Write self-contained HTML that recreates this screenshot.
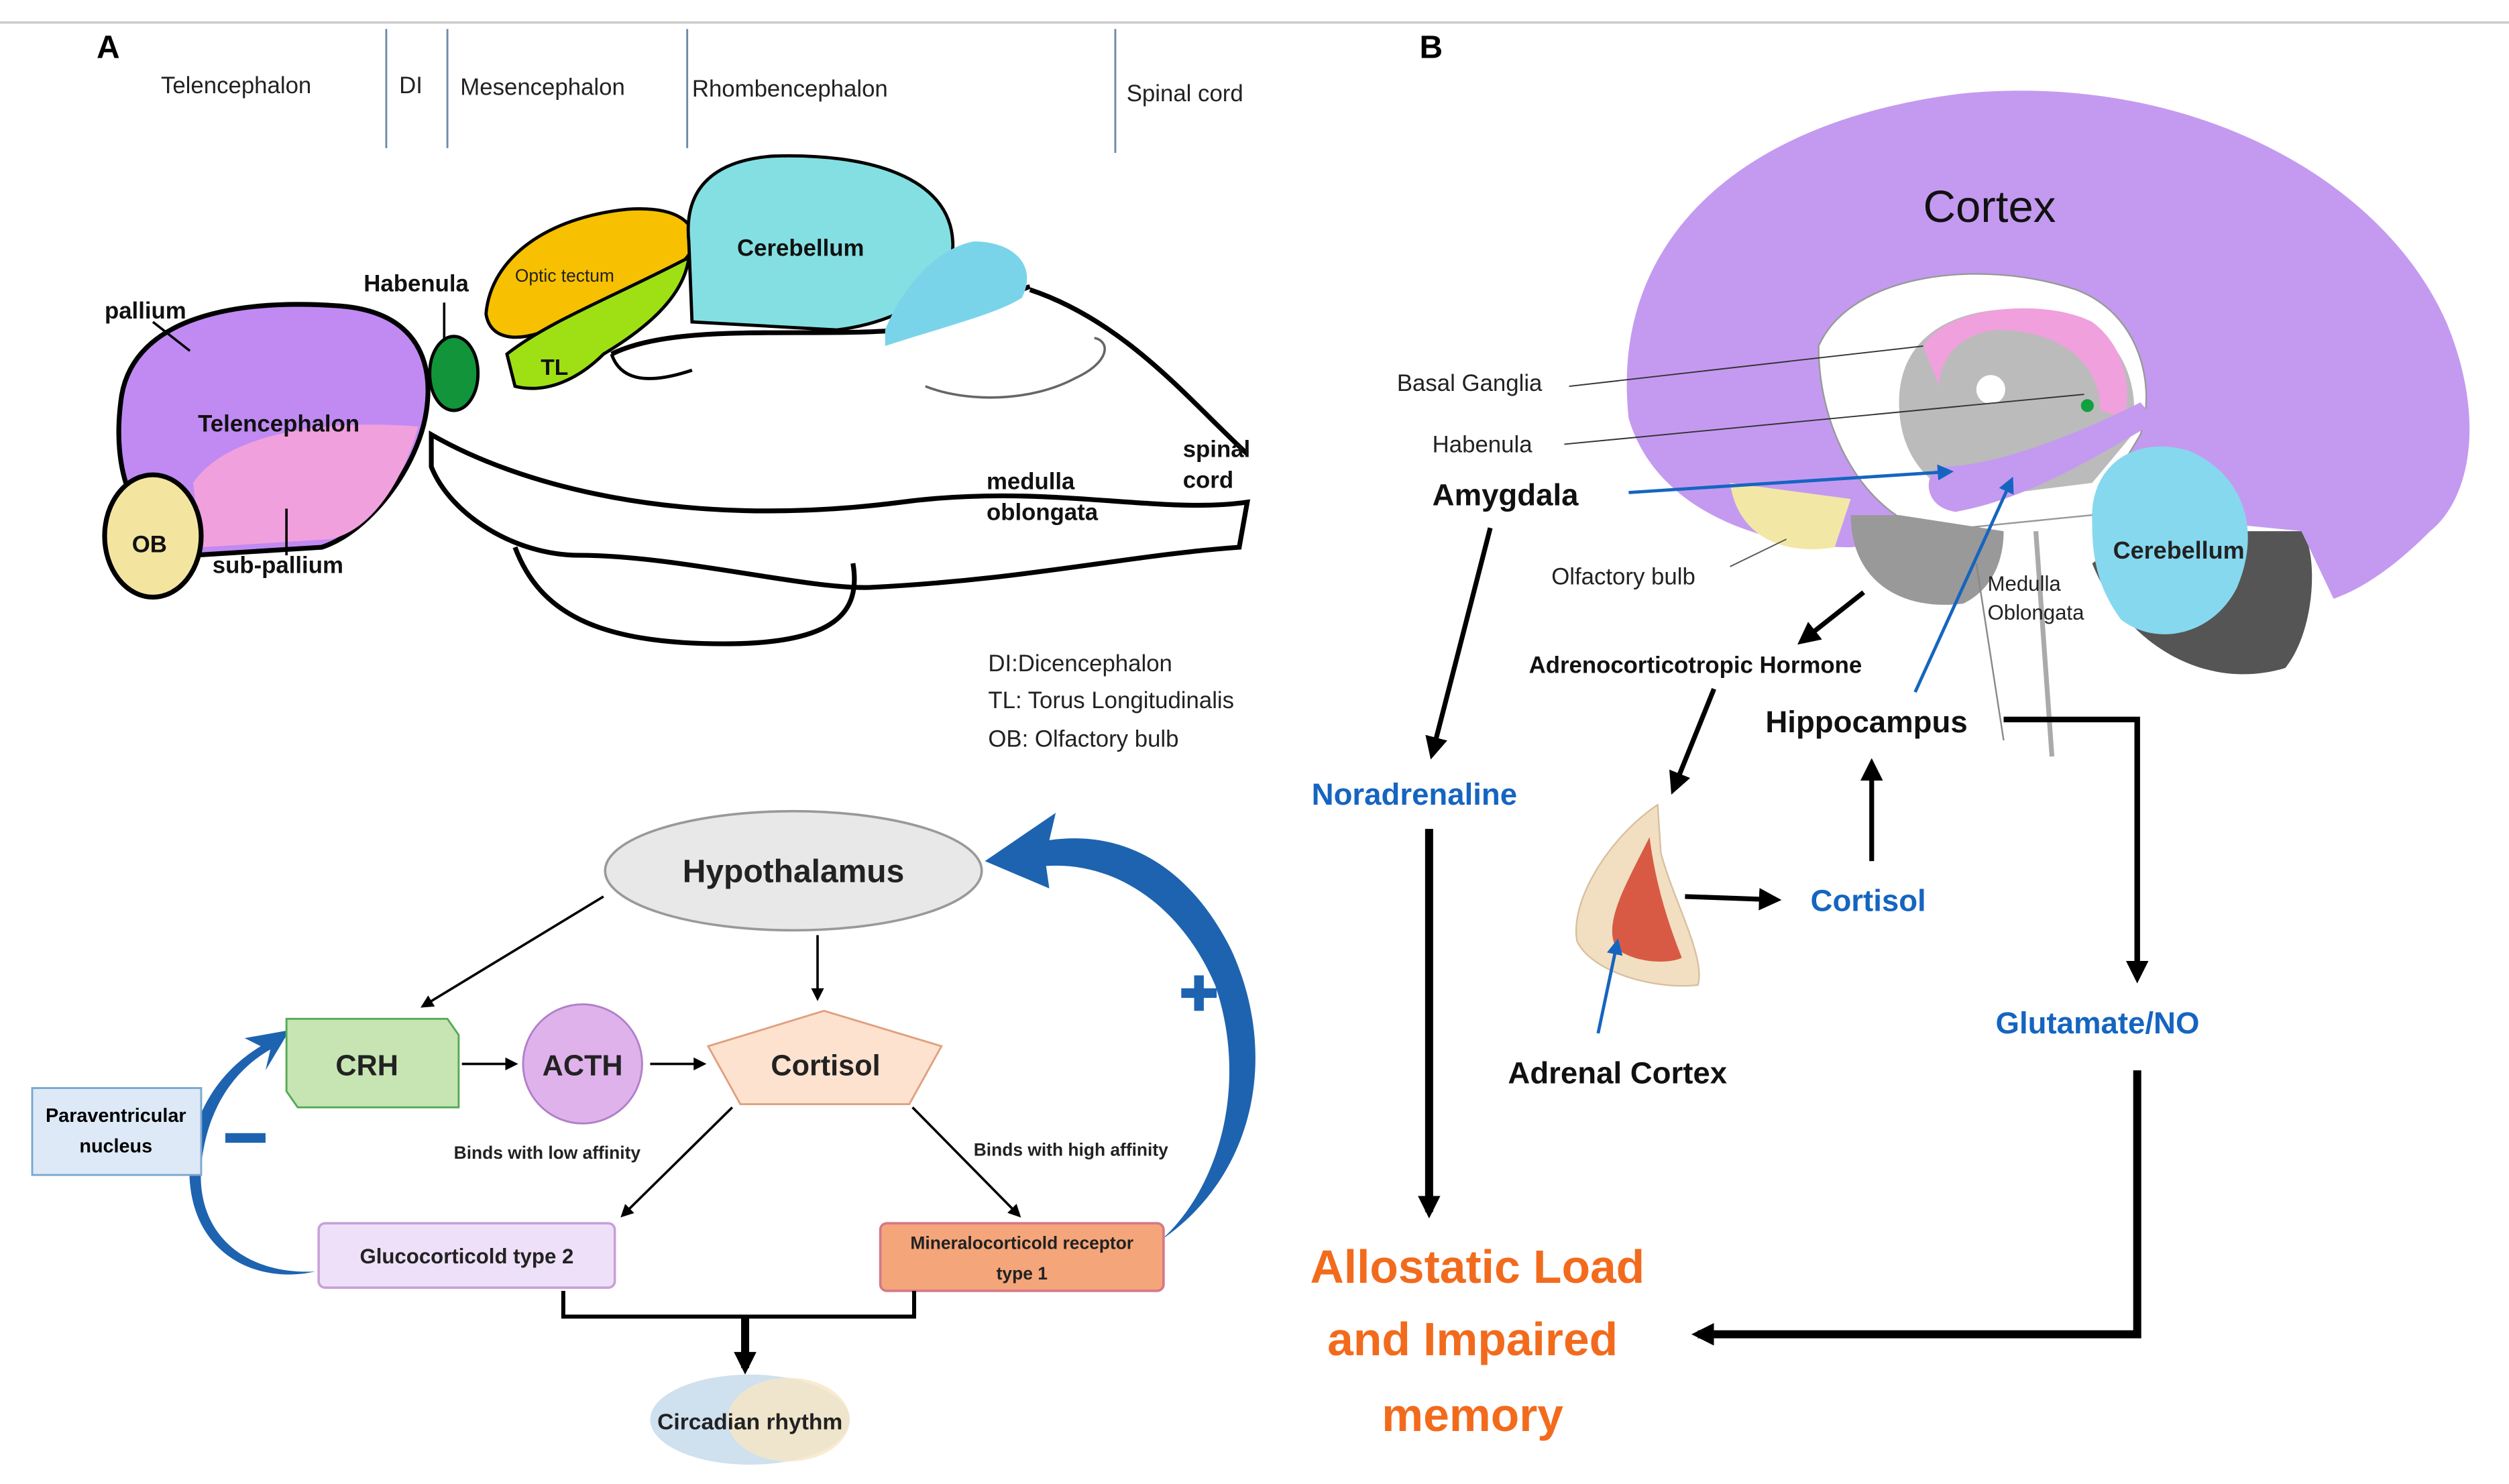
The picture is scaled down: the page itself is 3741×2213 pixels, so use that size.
<!DOCTYPE html>
<html><head><meta charset="utf-8"><style>
html,body{margin:0;padding:0;background:#fff;}
svg{display:block;}
text{font-family:"Liberation Sans",sans-serif;}
</style></head><body>
<svg width="3741" height="2213" viewBox="0 0 1559 922" preserveAspectRatio="none" xmlns="http://www.w3.org/2000/svg">
<defs>
<marker id="ah" markerWidth="8" markerHeight="8" refX="6" refY="4" orient="auto" markerUnits="userSpaceOnUse"><path d="M0,0 L8,4 L0,8 Z" fill="#000"/></marker>
<marker id="ahb" markerWidth="14" markerHeight="14" refX="10" refY="7" orient="auto" markerUnits="userSpaceOnUse"><path d="M0,0 L14,7 L0,14 Z" fill="#000"/></marker>
<marker id="ahbl" markerWidth="10" markerHeight="10" refX="8" refY="5" orient="auto" markerUnits="userSpaceOnUse"><path d="M0,0 L10,5 L0,10 Z" fill="#1565c0"/></marker>
</defs>
<line x1="0" y1="14" x2="1559" y2="14" stroke="#ccc" stroke-width="1.5"/>
<text x="60" y="36" font-size="20" font-weight="bold">A</text>
<text x="882" y="36" font-size="20" font-weight="bold">B</text>
<g font-size="14.5" fill="#222">
<text x="100" y="58">Telencephalon</text>
<text x="248" y="58">DI</text>
<text x="286" y="59">Mesencephalon</text>
<text x="430" y="60">Rhombencephalon</text>
<text x="700" y="63">Spinal cord</text>
</g>
<g stroke="#6d8aa8" stroke-width="1.2">
<line x1="240" y1="18" x2="240" y2="92"/><line x1="278" y1="18" x2="278" y2="92"/>
<line x1="427" y1="18" x2="427" y2="92"/><line x1="693" y1="18" x2="693" y2="95"/>
</g>
<!-- zebrafish brain -->
<path d="M268,270 C320,300 420,330 560,312 C650,300 720,320 775,312 L770,340 C700,345 640,360 540,365 C500,366 420,345 360,345 C320,345 280,320 268,290 Z" fill="#fff" stroke="#000" stroke-width="3"/>
<path d="M320,340 C335,380 370,400 450,400 C520,400 535,380 530,350" fill="none" stroke="#000" stroke-width="3"/>
<path d="M640,180 C700,200 740,250 775,282" fill="none" stroke="#000" stroke-width="3"/>
<path d="M380,220 C420,200 500,210 560,205 C600,200 620,185 640,178" fill="none" stroke="#000" stroke-width="3"/>
<path d="M380,220 C385,235 400,240 430,230" fill="none" stroke="#000" stroke-width="2"/>
<path d="M575,240 C600,250 640,250 668,235 C690,225 690,212 680,210" fill="none" stroke="#666" stroke-width="1.5"/>
<path d="M75,250 C80,200 140,185 210,190 C255,193 270,220 265,255 C260,290 230,330 200,340 L120,345 C80,330 70,290 75,250 Z" fill="#c08af2" stroke="#000" stroke-width="3"/>
<path d="M120,300 C140,270 200,260 260,265 C250,300 230,330 205,335 L125,340 Z" fill="#f0a0dc"/>
<ellipse cx="95" cy="333" rx="30" ry="38" fill="#f3e4a0" stroke="#000" stroke-width="3"/>
<ellipse cx="282" cy="232" rx="15" ry="23" fill="#11943a" stroke="#000" stroke-width="2"/>
<path d="M302,195 C305,160 340,135 390,130 C420,128 435,138 430,155 C420,175 380,185 350,200 C330,212 305,215 302,195 Z" fill="#f7c000" stroke="#000" stroke-width="2"/>
<path d="M315,220 C340,200 380,185 428,160 C425,185 400,205 375,220 C360,235 340,245 320,240 Z" fill="#9ee014" stroke="#000" stroke-width="2"/>
<path d="M428,150 C425,120 440,100 480,97 C540,95 590,110 592,150 C594,180 560,200 520,205 L430,200 Z" fill="#84dfe2" stroke="#000" stroke-width="2"/>
<path d="M550,205 C560,180 580,155 605,150 C630,150 645,165 635,185 C620,195 580,205 550,215 Z" fill="#79d4ea"/>
<g font-size="14.5" font-weight="bold" fill="#111">
<text x="65" y="198">pallium</text>
<text x="226" y="181">Habenula</text>
<text x="123" y="268">Telencephalon</text>
<text x="82" y="343">OB</text>
<text x="132" y="356">sub-pallium</text>
<text x="336" y="233" font-size="14">TL</text>
<text x="458" y="159">Cerebellum</text>
<text x="613" y="304">medulla</text>
<text x="613" y="323">oblongata</text>
<text x="735" y="284">spinal</text>
<text x="735" y="303">cord</text>
</g>
<text x="320" y="175" font-size="11" fill="#222">Optic tectum</text>
<line x1="95" y1="200" x2="118" y2="218" stroke="#000" stroke-width="1.5"/>
<line x1="276" y1="188" x2="276" y2="212" stroke="#000" stroke-width="1.5"/>
<line x1="178" y1="316" x2="178" y2="345" stroke="#000" stroke-width="1.5"/>
<g font-size="14.5" fill="#222">
<text x="614" y="417">DI:Dicencephalon</text>
<text x="614" y="440">TL: Torus Longitudinalis</text>
<text x="614" y="464">OB: Olfactory bulb</text>
</g>
<!-- HPA -->
<path d="M196,790 C150,792 122,765 125,725 C128,690 145,665 168,652 L165,665 L180,640 L152,645 L162,650 C132,668 115,700 118,735 C122,780 160,798 196,790 Z" fill="#1e63b0"/>
<path d="M722,770 C780,730 795,655 765,590 C740,540 700,515 652,522 L656,505 L612,535 L652,552 L650,538 C695,535 735,565 755,612 C775,670 760,735 722,770 Z" fill="#1e63b0"/>
<ellipse cx="493" cy="541" rx="117" ry="37" fill="#e8e8e8" stroke="#999" stroke-width="1.5"/>
<text x="493" y="548" font-size="20" font-weight="bold" text-anchor="middle" fill="#222">Hypothalamus</text>
<path d="M178,633 L278,633 L285,643 L285,688 L185,688 L178,678 Z" fill="#c6e5b3" stroke="#5a5" stroke-width="1.2"/>
<text x="228" y="668" font-size="18" font-weight="bold" text-anchor="middle" fill="#222">CRH</text>
<circle cx="362" cy="661" r="37" fill="#dfb2ec" stroke="#b080c8" stroke-width="1.2"/>
<text x="362" y="668" font-size="18" font-weight="bold" text-anchor="middle" fill="#222">ACTH</text>
<path d="M512,628 L585,650 L565,686 L460,686 L440,650 Z" fill="#fde2cf" stroke="#e0a080" stroke-width="1.2"/>
<text x="513" y="668" font-size="18" font-weight="bold" text-anchor="middle" fill="#222">Cortisol</text>
<rect x="20" y="676" width="105" height="54" fill="#dde9f6" stroke="#7aa8d0" stroke-width="1.2"/>
<text x="72" y="697" font-size="12" font-weight="bold" text-anchor="middle">Paraventricular</text>
<text x="72" y="716" font-size="12" font-weight="bold" text-anchor="middle">nucleus</text>
<rect x="140" y="704" width="25" height="6" fill="#1e63b0"/>
<path d="M734,614 h8 v-8 h6 v8 h8 v6 h-8 v8 h-6 v-8 h-8 Z" fill="#1e63b0"/>
<rect x="198" y="760" width="184" height="40" rx="4" fill="#eee0f8" stroke="#c8a0d8" stroke-width="1.5"/>
<text x="290" y="785" font-size="13" font-weight="bold" text-anchor="middle" fill="#222">Glucocorticold type 2</text>
<rect x="547" y="760" width="176" height="42" rx="4" fill="#f4a57a" stroke="#d47888" stroke-width="1.5"/>
<text x="635" y="776" font-size="11" font-weight="bold" text-anchor="middle" fill="#222">Mineralocorticold receptor</text>
<text x="635" y="795" font-size="11" font-weight="bold" text-anchor="middle" fill="#222">type 1</text>
<g font-size="11" font-weight="bold" fill="#222">
<text x="282" y="720">Binds with low affinity</text>
<text x="605" y="718">Binds with high affinity</text>
</g>
<g stroke="#000" stroke-width="1.5" fill="none">
<line x1="375" y1="557" x2="263" y2="625" marker-end="url(#ah)"/>
<line x1="508" y1="581" x2="508" y2="620" marker-end="url(#ah)"/>
<line x1="287" y1="661" x2="320" y2="661" marker-end="url(#ah)"/>
<line x1="404" y1="661" x2="437" y2="661" marker-end="url(#ah)"/>
<line x1="455" y1="688" x2="387" y2="755" marker-end="url(#ah)"/>
<line x1="567" y1="688" x2="633" y2="755" marker-end="url(#ah)"/>
</g>
<path d="M350,802 V818 H568 V802" fill="none" stroke="#000" stroke-width="2.5"/>
<line x1="463" y1="818" x2="463" y2="850" stroke="#000" stroke-width="5" marker-end="url(#ahb)"/>
<ellipse cx="466" cy="882" rx="62" ry="28" fill="#cfe0ef"/>
<ellipse cx="490" cy="882" rx="38" ry="26" fill="#f6e6c4" opacity="0.8"/>
<text x="466" y="888" font-size="14" font-weight="bold" text-anchor="middle" fill="#222">Circadian rhythm</text>
<!-- Part B brain -->
<path d="M1300,350 C1320,400 1370,430 1420,415 C1440,390 1440,340 1430,330 L1330,330 Z" fill="#555"/>
<path d="M1012,260 C1000,150 1080,75 1220,58 C1360,45 1480,110 1520,200 C1545,260 1535,310 1510,330 C1490,350 1470,365 1450,372 L1430,330 L1330,320 L1260,320 L1200,335 L1150,340 C1100,340 1030,320 1012,260 Z" fill="#c49af0"/>
<path d="M1130,215 C1150,170 1230,160 1290,180 C1330,195 1340,240 1330,270 L1300,320 L1200,330 C1160,320 1130,270 1130,215 Z" fill="#fff" stroke="#999"/>
<path d="M1180,250 C1180,200 1230,185 1280,195 C1320,205 1330,240 1325,270 L1300,300 L1220,310 C1195,300 1180,280 1180,250 Z" fill="#bbb"/>
<path d="M1195,215 C1210,190 1270,185 1300,200 C1320,215 1325,240 1320,260 L1305,255 C1305,225 1280,205 1240,205 C1215,208 1205,225 1205,240 Z" fill="#f0a0dc"/>
<circle cx="1237" cy="242" r="9" fill="#fff"/>
<path d="M1205,290 C1240,290 1290,270 1330,250 L1340,262 C1300,285 1260,310 1215,318 C1195,315 1195,295 1205,290 Z" fill="#c49af0"/>
<circle cx="1297" cy="252" r="4" fill="#11a040"/>
<path d="M1075,300 C1080,335 1110,345 1140,340 L1150,310 Z" fill="#f3e7a6"/>
<path d="M1150,320 C1150,360 1180,380 1220,375 C1240,365 1245,345 1245,330 L1180,320 Z" fill="#999"/>
<path d="M1300,325 C1298,290 1325,270 1360,280 C1395,295 1405,330 1390,365 C1375,395 1340,402 1318,385 C1303,365 1300,345 1300,325 Z" fill="#86d8ee"/>
<line x1="1265" y1="330" x2="1275" y2="470" stroke="#aaa" stroke-width="3"/>
<line x1="1228" y1="350" x2="1245" y2="460" stroke="#888" stroke-width="1"/>
<text x="1195" y="138" font-size="28" fill="#111">Cortex</text>
<g font-size="14.5" fill="#222">
<text x="868" y="243">Basal Ganglia</text>
<text x="890" y="281">Habenula</text>
<text x="964" y="363">Olfactory bulb</text>
<text x="1235" y="367" font-size="13">Medulla</text>
<text x="1235" y="385" font-size="13">Oblongata</text>
<text x="1313" y="347" font-size="15" font-weight="bold">Cerebellum</text>
</g>
<line x1="975" y1="240" x2="1195" y2="215" stroke="#333" stroke-width="0.8"/>
<line x1="972" y1="276" x2="1295" y2="245" stroke="#333" stroke-width="0.8"/>
<line x1="1075" y1="352" x2="1110" y2="335" stroke="#555" stroke-width="0.8"/>
<g font-weight="bold" fill="#111">
<text x="890" y="314" font-size="19">Amygdala</text>
<text x="950" y="418" font-size="14.5">Adrenocorticotropic Hormone</text>
<text x="1097" y="455" font-size="19">Hippocampus</text>
<text x="937" y="673" font-size="19">Adrenal Cortex</text>
</g>
<g font-weight="bold" fill="#1565c0" font-size="19">
<text x="815" y="500">Noradrenaline</text>
<text x="1125" y="566">Cortisol</text>
<text x="1240" y="642">Glutamate/NO</text>
</g>
<g font-weight="bold" fill="#f26b1d" font-size="29" text-anchor="middle">
<text x="918" y="797">Allostatic Load</text>
<text x="915" y="842">and Impaired</text>
<text x="915" y="889">memory</text>
</g>
<path d="M1030,500 C1000,520 975,560 980,585 C990,605 1030,615 1055,612 C1060,595 1040,560 1032,530 Z" fill="#f2dfc2" stroke="#d8c0a0"/>
<path d="M1025,520 C1010,550 995,575 1005,590 C1020,600 1040,598 1045,595 C1035,570 1028,545 1025,520 Z" fill="#d85a45"/>
<g stroke="#1565c0" stroke-width="2" fill="none">
<line x1="1012" y1="306" x2="1212" y2="293" marker-end="url(#ahbl)"/>
<line x1="1190" y1="430" x2="1250" y2="298" marker-end="url(#ahbl)"/>
<line x1="993" y1="642" x2="1005" y2="585" marker-end="url(#ahbl)"/>
</g>
<g stroke="#000" stroke-width="3" fill="none">
<line x1="926" y1="328" x2="890" y2="468" marker-end="url(#ahb)"/>
<line x1="1158" y1="368" x2="1120" y2="398" marker-end="url(#ahb)"/>
<line x1="1065" y1="428" x2="1040" y2="490" marker-end="url(#ahb)"/>
<line x1="1047" y1="557" x2="1103" y2="559" marker-end="url(#ahb)"/>
<line x1="1163" y1="535" x2="1163" y2="475" marker-end="url(#ahb)"/>
<line x1="888" y1="515" x2="888" y2="753" stroke-width="5" marker-end="url(#ahb)"/>
</g>
<path d="M1245,447 H1328 V607" fill="none" stroke="#000" stroke-width="3.5" marker-end="url(#ahb)"/>
<path d="M1328,665 V829 H1055" fill="none" stroke="#000" stroke-width="5" marker-end="url(#ahb)"/>
</svg>
</body></html>
